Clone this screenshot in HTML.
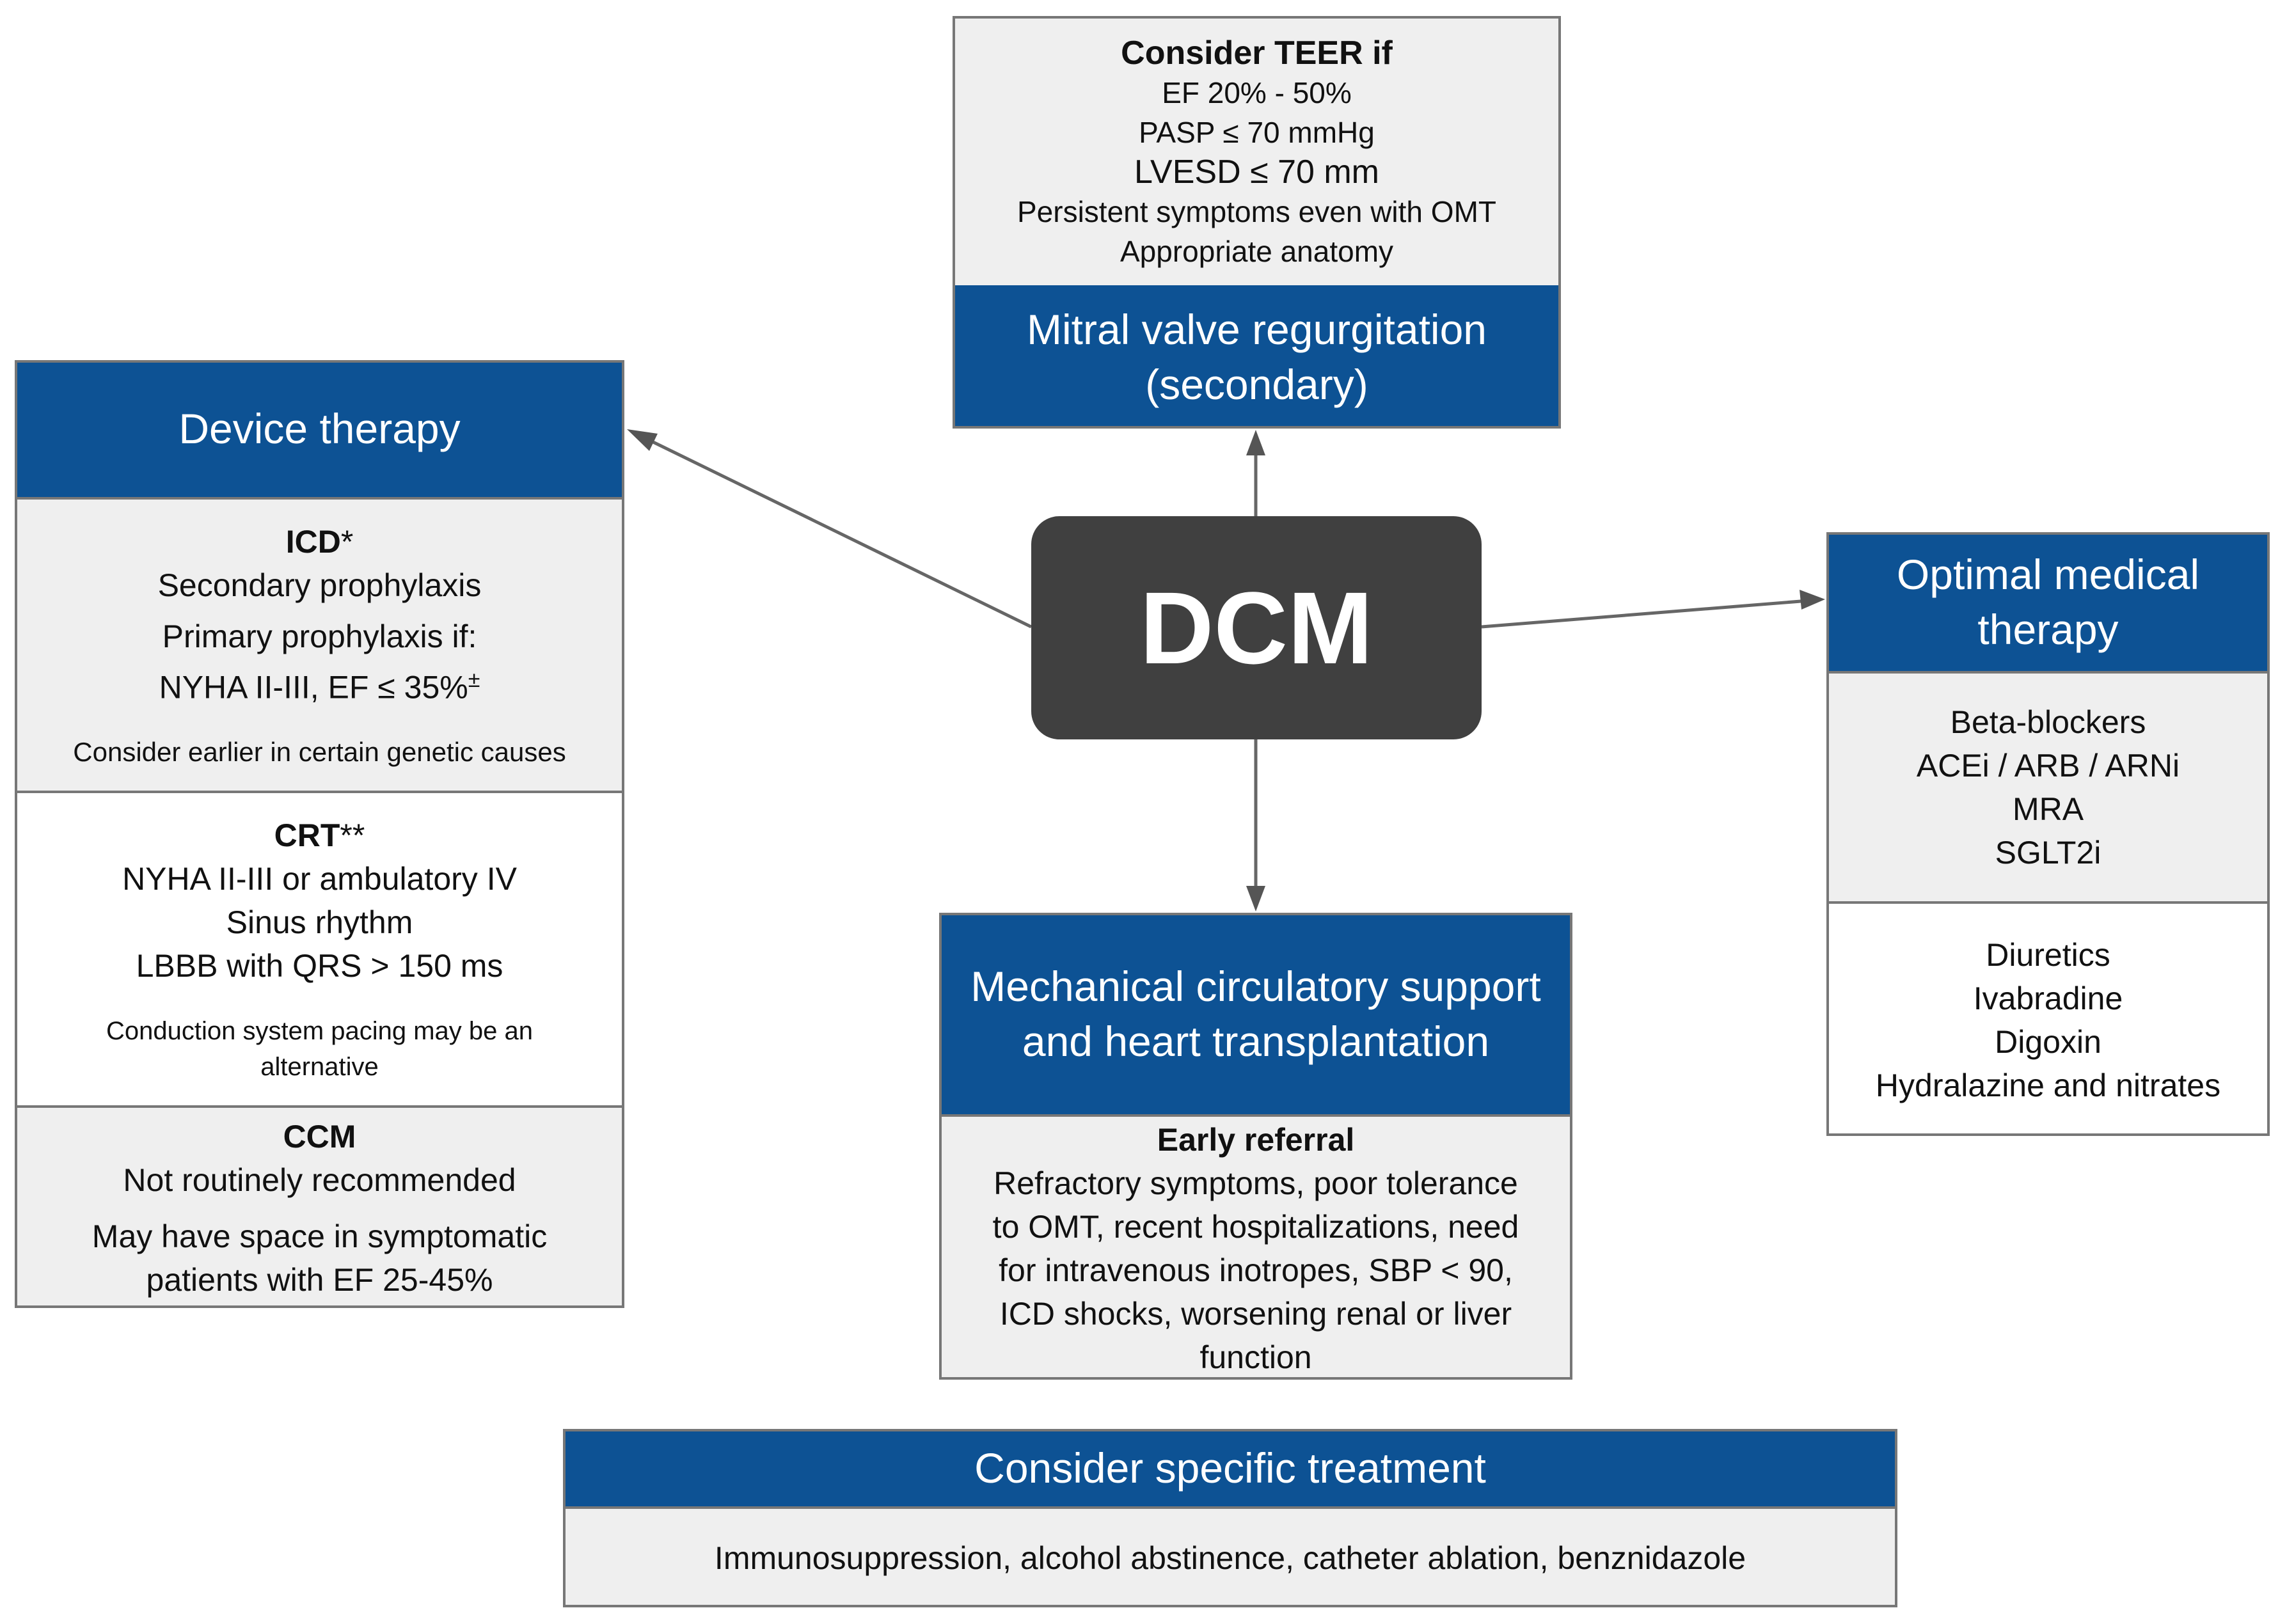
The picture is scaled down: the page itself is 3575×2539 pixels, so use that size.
<!DOCTYPE html>
<html><head><meta charset="utf-8"><style>
body{margin:0;width:3575px;height:2539px;background:#fff;position:relative;overflow:hidden;font-family:"Liberation Sans",sans-serif;color:#111}
.b{position:absolute;box-sizing:border-box;overflow:hidden}
.o{position:absolute;left:0;top:0;right:0;bottom:0;border:4px solid #777;box-sizing:border-box}
.s{position:absolute;box-sizing:border-box;display:flex;flex-direction:column;justify-content:center;align-items:center;text-align:center}
.h{background:#0d5294;color:#fff;font-size:66px;line-height:86px}
.g{background:#efefef}
.w{background:#fff}
.t{font-size:50px;line-height:68px}
.bold{font-weight:bold}
.sm{font-size:42px;line-height:56px}
</style></head><body>
<svg width="3575" height="2539" style="position:absolute;left:0;top:0">
<g stroke="#666" stroke-width="5" fill="none">
<line x1="1963" y1="807" x2="1963" y2="685"/>
<line x1="1612" y1="980" x2="990" y2="676"/>
<line x1="2316" y1="980" x2="2840" y2="938"/>
<line x1="1963" y1="1156" x2="1963" y2="1410"/>
</g>
<g fill="#555">
<path d="M1963,672 L1948,712 L1978,712z"/>
<path d="M980,671 L1015,705 L1028,678z"/>
<path d="M2853,937 L2813,922 L2816,953z"/>
<path d="M1963,1425 L1948,1385 L1978,1385z"/>
</g>
</svg>

<div class="b" style="left:1489px;top:25px;width:951px;height:645px">
<div class="s g t" style="left:0;top:0;width:951px;height:421px;font-size:46px;line-height:62px;padding-top:4px">
<div class="bold" style="font-size:52px">Consider TEER if</div>
<div>EF 20% - 50%</div><div>PASP ≤ 70 mmHg</div><div style="font-size:52px">LVESD ≤ 70 mm</div>
<div>Persistent symptoms even with OMT</div><div>Appropriate anatomy</div></div>
<div class="s h" style="left:0;top:421px;width:951px;height:224px">Mitral valve regurgitation<br>(secondary)</div>
<div class="o"></div>
</div>

<div class="b" style="left:23px;top:563px;width:953px;height:1482px">
<div class="s h" style="left:0;top:0;width:953px;height:214px">Device therapy</div>
<div class="s g t" style="left:0;top:214px;width:953px;height:463px;border-bottom:4px solid #777;border-top:4px solid #777">
<div class="bold">ICD<span style="font-weight:normal">*</span></div><div>Secondary prophylaxis</div>
<div style="margin-top:12px">Primary prophylaxis if:</div><div>NYHA II-III, EF ≤ 35%<sup style="font-size:34px">±</sup></div>
<div class="sm" style="margin-top:40px">Consider earlier in certain genetic causes</div></div>
<div class="s w t" style="left:0;top:677px;width:953px;height:488px">
<div class="bold">CRT<span style="font-weight:normal">**</span></div><div>NYHA II-III or ambulatory IV</div><div>Sinus rhythm</div><div>LBBB with QRS &gt; 150 ms</div>
<div class="sm" style="margin-top:40px;font-size:40px">Conduction system pacing may be an<br>alternative</div></div>
<div class="s g t" style="left:0;top:1165px;width:953px;height:317px;border-top:4px solid #777">
<div class="bold">CCM</div><div>Not routinely recommended</div><div style="margin-top:20px">May have space in symptomatic<br>patients with EF 25-45%</div></div>
<div class="o"></div>
</div>

<div class="s" style="left:1612px;top:807px;width:704px;height:349px;background:#404040;border-radius:44px;color:#fff;font-weight:bold;font-size:160px">DCM</div>

<div class="b" style="left:2855px;top:832px;width:693px;height:944px">
<div class="s h" style="left:0;top:0;width:693px;height:217px">Optimal medical<br>therapy</div>
<div class="s g t" style="left:0;top:217px;width:693px;height:364px;border-bottom:4px solid #777;border-top:4px solid #777">
<div>Beta-blockers</div><div>ACEi / ARB / ARNi</div><div>MRA</div><div>SGLT2i</div></div>
<div class="s w t" style="left:0;top:581px;width:693px;height:363px">
<div>Diuretics</div><div>Ivabradine</div><div>Digoxin</div><div>Hydralazine and nitrates</div></div>
<div class="o"></div>
</div>

<div class="b" style="left:1468px;top:1427px;width:990px;height:730px">
<div class="s h" style="left:0;top:0;width:990px;height:315px">Mechanical circulatory support<br>and heart transplantation</div>
<div class="s g t" style="left:0;top:315px;width:990px;height:415px;border-top:4px solid #777">
<div class="bold">Early referral</div><div>Refractory symptoms, poor tolerance<br>to OMT, recent hospitalizations, need<br>for intravenous inotropes, SBP &lt; 90,<br>ICD shocks, worsening renal or liver<br>function</div></div>
<div class="o"></div>
</div>

<div class="b" style="left:880px;top:2234px;width:2086px;height:279px">
<div class="s h" style="left:0;top:0;width:2086px;height:121px">Consider specific treatment</div>
<div class="s g t" style="left:0;top:121px;width:2086px;height:158px;border-top:4px solid #777">Immunosuppression, alcohol abstinence, catheter ablation, benznidazole</div>
<div class="o"></div>
</div>
</body></html>
